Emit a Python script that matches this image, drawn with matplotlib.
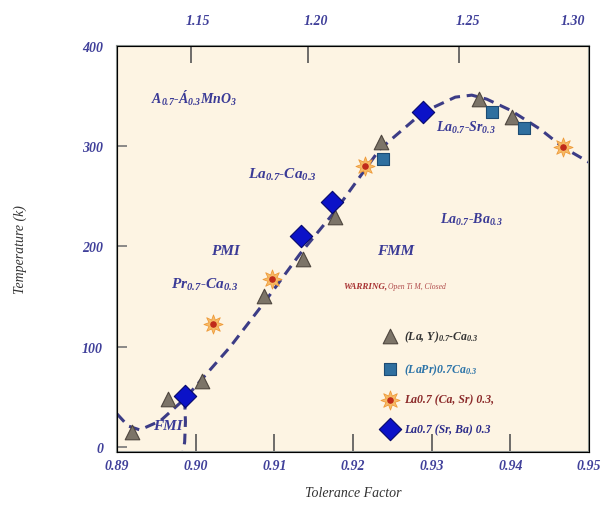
import matplotlib
matplotlib.use("Agg")
import matplotlib.pyplot as plt
import numpy as np

plt.rcParams['font.family'] = 'Liberation Serif'
plt.rcParams['font.style'] = 'italic'
plt.rcParams['font.weight'] = 'bold'
plt.rcParams['mathtext.fontset'] = 'custom'
plt.rcParams['mathtext.rm'] = 'Liberation Serif:bold:italic'
plt.rcParams['mathtext.it'] = 'Liberation Serif:bold:italic'
plt.rcParams['mathtext.bf'] = 'Liberation Serif:bold:italic'

# ---- data ----
# (La,Y)0.7-Ca0.3  (grey cones)
tri_t = [0.8919, 0.8965, 0.9008, 0.9087, 0.9136, 0.9177, 0.9236, 0.9360, 0.9402]
tri_T = [15, 48, 66, 151, 188, 229, 304, 347, 329]

# (LaPr)0.7Ca0.3  (blue squares)
sq_t = [0.9238, 0.9377, 0.9417]
sq_T = [287, 334, 318]

# La0.7 (Ca,Sr) 0.3  (orange stars)
star_t = [0.9022, 0.9097, 0.9215, 0.9467]
star_T = [123, 168, 280, 299]

# La0.7 (Sr,Ba) 0.3  (blue diamonds)
dia_t = [0.8986, 0.9134, 0.9173, 0.9289]
dia_T = [51, 210, 244, 334]

# phase boundary (dashed)
curve_t = [0.8900, 0.8914, 0.8929, 0.8955, 0.8986, 0.9044, 0.9088, 0.9133,
           0.9177, 0.9234, 0.9289, 0.9330, 0.9351, 0.9370, 0.9400, 0.9438,
           0.9467, 0.9500]
curve_T = [33, 21, 17, 26, 48, 100, 145, 193, 235, 297, 334, 349, 351, 347,
           336, 317, 299, 284]
fmi_t = [0.8986, 0.8987, 0.8986, 0.8984]
fmi_T = [48, 25, 5, -5]

bottom_ticks = [0.89, 0.90, 0.91, 0.92, 0.93, 0.94, 0.95]
top_tick_marks = [0.8994, 0.9143, 0.9335]
top_label_pos = [0.9003, 0.9153, 0.9346, 0.9480]
top_labels = ['1.15', '1.20', '1.25', '1.30']
y_ticks = [0, 100, 200, 300, 400]

tick_col = '#40409a'
txt_col = '#3a3a96'

fig = plt.figure(figsize=(6.11, 5.10), dpi=100)
ax = fig.add_axes([0.1915, 0.1118, 0.7725, 0.796])
ax.set_facecolor('#fdf4e3')

ax.plot(curve_t, curve_T, color='#3c3c86', lw=2.2, ls=(0, (3.5, 2.2)), zorder=2)
ax.plot(fmi_t, fmi_T, color='#3c3c86', lw=2.2, ls=(0, (3.5, 2.2)), zorder=2)

h_tri = ax.scatter(tri_t, tri_T, marker='^', s=110, c='#7c7468', edgecolors='#4e463e',
                   linewidths=0.8, zorder=4)
h_sq = ax.scatter(sq_t, sq_T, marker='s', s=80, c='#2f6f9f', edgecolors='#1c4b73',
                  linewidths=0.8, zorder=4)
h_star = ax.scatter(star_t, star_T, marker=(8, 1, 0), s=190, c='#f7bb66',
                    edgecolors='#ee9a3a', linewidths=0.6, zorder=4)
h_dot = ax.scatter(star_t, star_T, marker='o', s=14, c='#c02a1a', zorder=5)
h_dia = ax.scatter(dia_t, dia_T, marker='D', s=130, c='#0b12c8', edgecolors='#05086a',
                   linewidths=0.8, zorder=5)

ax.set_xlim(0.89, 0.95)
ax.set_ylim(-5, 400)
ax.set_xticks(bottom_ticks)
ax.set_xticklabels(['%.2f' % v for v in bottom_ticks])
ax.set_yticks(y_ticks)
ax.tick_params(axis='x', direction='in', length=13, width=1.2, color='#555555',
               labelsize=10, labelcolor=tick_col, pad=5)
ax.tick_params(axis='y', direction='in', length=7, width=1.2, color='#777777',
               labelsize=10, labelcolor=tick_col, pad=10)
for sp in ax.spines.values():
    sp.set_color('#8c9490')
    sp.set_linewidth(1.5)

# top axis
ax2 = ax.twiny()
ax2.set_xlim(ax.get_xlim())
ax2.set_xticks(top_label_pos)
ax2.set_xticklabels(top_labels)
ax2.set_xticks(top_tick_marks, minor=True)
ax2.tick_params(axis='x', which='major', length=0, labelsize=10,
                labelcolor=tick_col, pad=14)
ax2.tick_params(axis='x', which='minor', direction='in', length=12, width=1.2,
                color='#555555')

ax.set_xlabel('Tolerance Factor', fontsize=10, color='#333333', labelpad=10)
ax.set_ylabel('Temperature (k)', fontsize=10, color='#333333', labelpad=40)

# region labels
ax.text(0.8998, 349, r'A$_{0.7}$-Á$_{0.3}$MnO$_3$', fontsize=10, color=txt_col,
        ha='center', va='center')
ax.text(0.9110, 272, r'La$_{0.7}$-Ca$_{0.3}$', fontsize=11, color=txt_col,
        ha='center', va='center')
ax.text(0.9038, 196, 'PMI', fontsize=11, color=txt_col, ha='center', va='center')
ax.text(0.9011, 163, r'Pr$_{0.7}$-Ca$_{0.3}$', fontsize=11, color=txt_col,
        ha='center', va='center')
ax.text(0.8965, 21, 'FMI', fontsize=11, color=txt_col, ha='center', va='center')
ax.text(0.9344, 319, r'La$_{0.7}$-Sr$_{0.3}$', fontsize=10, color=txt_col,
        ha='center', va='center')
ax.text(0.9350, 227, r'La$_{0.7}$-Ba$_{0.3}$', fontsize=10, color=txt_col,
        ha='center', va='center')
ax.text(0.9254, 196, 'FMM', fontsize=11, color=txt_col, ha='center', va='center')
ax.text(0.9188, 161, 'WARRING,', fontsize=6.5, color='#a83232', ha='left', va='center')
ax.text(0.9244, 161, 'Open Ti M, Closed', fontsize=5.5, color='#b04a4a',
        weight='normal', ha='left', va='center')

leg = ax.legend([h_tri, h_sq, (h_star, h_dot), h_dia],
                [r'(La, Y)$_{0.7}$-Ca$_{0.3}$', r'(LaPr)0.7Ca$_{0.3}$',
                 'La0.7 (Ca, Sr) 0.3,', 'La0.7 (Sr, Ba) 0.3'],
                loc='upper left', bbox_to_anchor=(0.54, 0.33), frameon=False,
                fontsize=8.5, labelspacing=1.45, handletextpad=0.6,
                handlelength=1.2)
for t, c in zip(leg.get_texts(), ['#333333', '#2b73a8', '#8b2a2a', '#2a2a8a']):
    t.set_color(c)

fig.savefig('out.png', dpi=100, facecolor='white')
